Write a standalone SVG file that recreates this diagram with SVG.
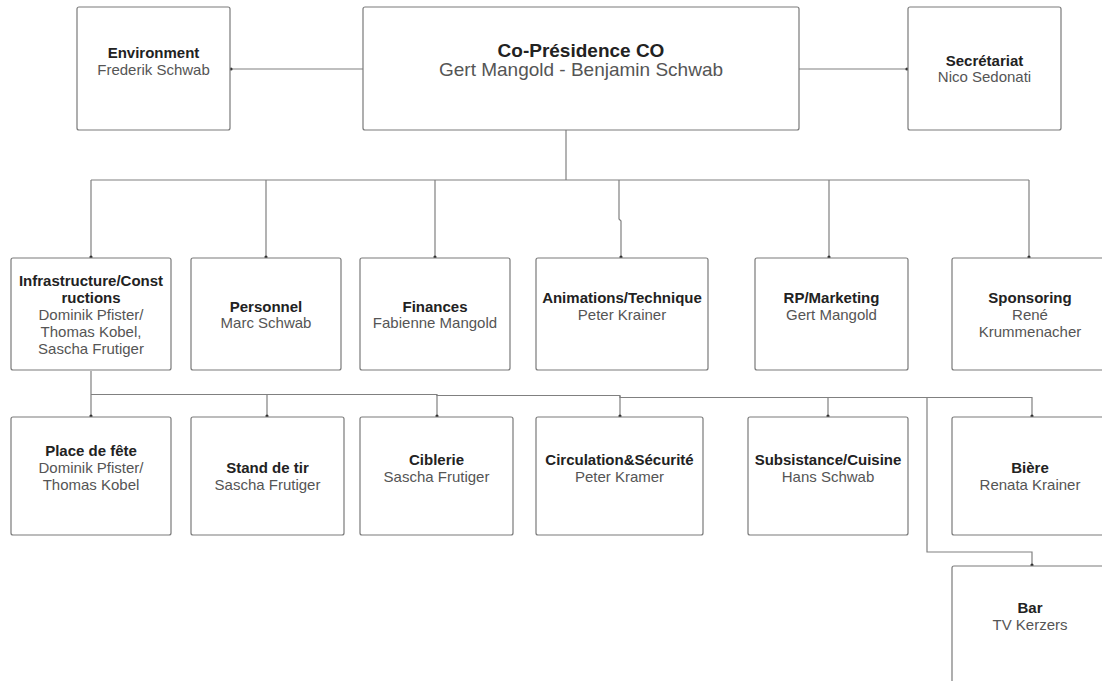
<svg xmlns="http://www.w3.org/2000/svg" width="1102" height="681" viewBox="0 0 1102 681">
<style>
.box{fill:#fff;stroke:#7a7a7a;stroke-width:1.2}
.t{font-family:"Liberation Sans",Arial,sans-serif;font-size:15px;text-anchor:middle}
.b{font-weight:bold;fill:#222}
.n{fill:#555}
.big{font-size:19px}
.ln{fill:none;stroke:#808080;stroke-width:1.2}
.dot{fill:#333}
</style>
<rect width="1102" height="681" fill="#fff"/>
<g id="connectors">
<path class="ln" d="M231 69H363"/>
<path class="ln" d="M799 69H907"/>
<path class="ln" d="M566 130V180"/>
<path class="ln" d="M91 180H1029"/>
<path class="ln" d="M91 180V257M266 180V257M435 180V257M619 180V219L621 221V257M829 180V257M1029 180V257"/>
<path class="ln" d="M91 371V394.5H437V395.5H620V397.5H1032"/>
<path class="ln" d="M91 395V416M267 395V416M437 395V416M620 396V416M828 397V416M1032 397V416"/>
<path class="ln" d="M927 397V552H1032V565"/>
<g class="dot">
<circle cx="231" cy="69" r="1.6"/><circle cx="907" cy="69" r="1.6"/>
<circle cx="91" cy="257" r="1.6"/><circle cx="266" cy="257" r="1.6"/><circle cx="435" cy="257" r="1.6"/><circle cx="621" cy="257" r="1.6"/><circle cx="829" cy="257" r="1.6"/><circle cx="1029" cy="257" r="1.6"/>
<circle cx="91" cy="416" r="1.6"/><circle cx="267" cy="416" r="1.6"/><circle cx="437" cy="416" r="1.6"/><circle cx="620" cy="416" r="1.6"/><circle cx="828" cy="416" r="1.6"/><circle cx="1032" cy="416" r="1.6"/><circle cx="1032" cy="565" r="1.6"/>
</g>
</g>
<g id="environment"><rect class="box" x="77" y="7" width="153" height="123" rx="2"/><text class="t b" x="153.5" y="58">Environment</text><text class="t n" x="153.5" y="75">Frederik Schwab</text></g>
<g id="copresidence"><rect class="box" x="363" y="7" width="436" height="123" rx="2"/><text class="t b big" x="581" y="57">Co-Présidence CO</text><text class="t n big" x="581" y="76">Gert Mangold - Benjamin Schwab</text></g>
<g id="secretariat"><rect class="box" x="908" y="7" width="153" height="123" rx="2"/><text class="t b" x="984.5" y="66">Secrétariat</text><text class="t n" x="984.5" y="82">Nico Sedonati</text></g>
<g id="infrastructure"><rect class="box" x="11" y="258" width="160" height="112" rx="2"/><text class="t b" x="91" y="286">Infrastructure/Const</text><text class="t b" x="91" y="303">ructions</text><text class="t n" x="91" y="320">Dominik Pfister/</text><text class="t n" x="91" y="337">Thomas Kobel,</text><text class="t n" x="91" y="354">Sascha Frutiger</text></g>
<g id="personnel"><rect class="box" x="191" y="258" width="150" height="112" rx="2"/><text class="t b" x="266" y="311.5">Personnel</text><text class="t n" x="266" y="328">Marc Schwab</text></g>
<g id="finances"><rect class="box" x="360" y="258" width="150" height="112" rx="2"/><text class="t b" x="435" y="311.5">Finances</text><text class="t n" x="435" y="328">Fabienne Mangold</text></g>
<g id="animations"><rect class="box" x="536" y="258" width="172" height="112" rx="2"/><text class="t b" x="622" y="303">Animations/Technique</text><text class="t n" x="622" y="320">Peter Krainer</text></g>
<g id="rpmarketing"><rect class="box" x="755" y="258" width="153" height="112" rx="2"/><text class="t b" x="831.5" y="303">RP/Marketing</text><text class="t n" x="831.5" y="320">Gert Mangold</text></g>
<g id="sponsoring"><rect class="box" x="952" y="258" width="156" height="112" rx="2"/><text class="t b" x="1030" y="303">Sponsoring</text><text class="t n" x="1030" y="320">René</text><text class="t n" x="1030" y="337">Krummenacher</text></g>
<g id="placedefete"><rect class="box" x="11" y="417" width="160" height="118" rx="2"/><text class="t b" x="91" y="456">Place de fête</text><text class="t n" x="91" y="473">Dominik Pfister/</text><text class="t n" x="91" y="490">Thomas Kobel</text></g>
<g id="standdetir"><rect class="box" x="191" y="417" width="153" height="118" rx="2"/><text class="t b" x="267.5" y="473">Stand de tir</text><text class="t n" x="267.5" y="490">Sascha Frutiger</text></g>
<g id="ciblerie"><rect class="box" x="360" y="417" width="153" height="118" rx="2"/><text class="t b" x="436.5" y="465">Ciblerie</text><text class="t n" x="436.5" y="481.5">Sascha Frutiger</text></g>
<g id="circulation"><rect class="box" x="536" y="417" width="167" height="118" rx="2"/><text class="t b" x="619.5" y="465">Circulation&amp;Sécurité</text><text class="t n" x="619.5" y="481.5">Peter Kramer</text></g>
<g id="subsistance"><rect class="box" x="748" y="417" width="160" height="118" rx="2"/><text class="t b" x="828" y="465">Subsistance/Cuisine</text><text class="t n" x="828" y="481.5">Hans Schwab</text></g>
<g id="biere"><rect class="box" x="952" y="417" width="156" height="118" rx="2"/><text class="t b" x="1030" y="473">Bière</text><text class="t n" x="1030" y="490">Renata Krainer</text></g>
<g id="bar"><rect class="box" x="952" y="566" width="156" height="130" rx="2"/><text class="t b" x="1030" y="613">Bar</text><text class="t n" x="1030" y="630">TV Kerzers</text></g>
</svg>
